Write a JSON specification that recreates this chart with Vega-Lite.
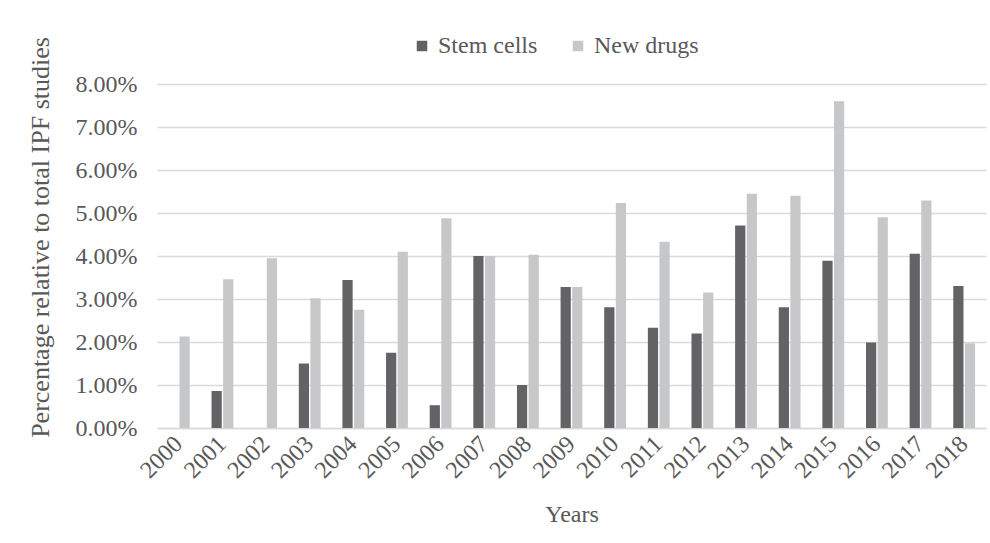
{
  "$schema": "https://vega.github.io/schema/vega-lite/v6.json",
  "autosize": {"type": "none"},
  "width": 829,
  "height": 344,
  "padding": {"left": 157, "top": 84, "right": 4, "bottom": 115},
  "background": "white",
  "data": {
    "values": [
      {"year": "2000", "series": "Stem cells", "value": 0.0},
      {"year": "2000", "series": "New drugs", "value": 0.0213},
      {"year": "2001", "series": "Stem cells", "value": 0.0086},
      {"year": "2001", "series": "New drugs", "value": 0.0346},
      {"year": "2002", "series": "Stem cells", "value": 0.0},
      {"year": "2002", "series": "New drugs", "value": 0.0395},
      {"year": "2003", "series": "Stem cells", "value": 0.0150},
      {"year": "2003", "series": "New drugs", "value": 0.0302},
      {"year": "2004", "series": "Stem cells", "value": 0.0344},
      {"year": "2004", "series": "New drugs", "value": 0.0275},
      {"year": "2005", "series": "Stem cells", "value": 0.0175},
      {"year": "2005", "series": "New drugs", "value": 0.0410},
      {"year": "2006", "series": "Stem cells", "value": 0.0053},
      {"year": "2006", "series": "New drugs", "value": 0.0488},
      {"year": "2007", "series": "Stem cells", "value": 0.0400},
      {"year": "2007", "series": "New drugs", "value": 0.0400},
      {"year": "2008", "series": "Stem cells", "value": 0.0100},
      {"year": "2008", "series": "New drugs", "value": 0.0403},
      {"year": "2009", "series": "Stem cells", "value": 0.0328},
      {"year": "2009", "series": "New drugs", "value": 0.0328},
      {"year": "2010", "series": "Stem cells", "value": 0.0281},
      {"year": "2010", "series": "New drugs", "value": 0.0523},
      {"year": "2011", "series": "Stem cells", "value": 0.0233},
      {"year": "2011", "series": "New drugs", "value": 0.0433},
      {"year": "2012", "series": "Stem cells", "value": 0.0220},
      {"year": "2012", "series": "New drugs", "value": 0.0315},
      {"year": "2013", "series": "Stem cells", "value": 0.0471},
      {"year": "2013", "series": "New drugs", "value": 0.0545},
      {"year": "2014", "series": "Stem cells", "value": 0.0281},
      {"year": "2014", "series": "New drugs", "value": 0.0540},
      {"year": "2015", "series": "Stem cells", "value": 0.0389},
      {"year": "2015", "series": "New drugs", "value": 0.0760},
      {"year": "2016", "series": "Stem cells", "value": 0.0199},
      {"year": "2016", "series": "New drugs", "value": 0.0490},
      {"year": "2017", "series": "Stem cells", "value": 0.0405},
      {"year": "2017", "series": "New drugs", "value": 0.0529},
      {"year": "2018", "series": "Stem cells", "value": 0.0330},
      {"year": "2018", "series": "New drugs", "value": 0.0197}
    ]
  },
  "mark": {"type": "bar"},
  "encoding": {
    "x": {
      "field": "year",
      "type": "nominal",
      "title": "Years",
      "scale": {"paddingInner": 0.5, "paddingOuter": 0.25},
      "axis": {
        "labelAngle": -45,
        "labelAlign": "right",
        "labelBaseline": "middle",
        "labelPadding": 12,
        "ticks": false,
        "domainColor": "#d9d9d9",
        "domainWidth": 1.5,
        "titlePadding": 20
      }
    },
    "xOffset": {
      "field": "series",
      "type": "nominal",
      "scale": {"domain": ["Stem cells", "New drugs"], "paddingInner": 0.12, "paddingOuter": 0}
    },
    "y": {
      "field": "value",
      "type": "quantitative",
      "title": "Percentage relative to total IPF studies",
      "scale": {"domain": [0, 0.08], "nice": false},
      "axis": {
        "format": ".2%",
        "values": [0, 0.01, 0.02, 0.03, 0.04, 0.05, 0.06, 0.07, 0.08],
        "domain": false,
        "ticks": false,
        "labelPadding": 20,
        "gridColor": "#d9d9d9",
        "gridWidth": 1.5,
        "titlePadding": 22,
        "titleFontSize": 26,
        "titleY": 153
      }
    },
    "color": {
      "field": "series",
      "type": "nominal",
      "title": null,
      "scale": {"domain": ["Stem cells", "New drugs"], "range": ["#636365", "#c6c7c9"]},
      "legend": {
        "orient": "none",
        "direction": "horizontal",
        "legendX": 253,
        "legendY": -50,
        "symbolType": "square",
        "symbolSize": 110,
        "symbolStrokeWidth": 0,
        "columnPadding": 28,
        "labelOffset": 4
      }
    }
  },
  "config": {
    "font": "Liberation Serif",
    "view": {"stroke": null},
    "axis": {
      "labelFont": "Liberation Serif",
      "titleFont": "Liberation Serif",
      "labelFontSize": 24,
      "titleFontSize": 24,
      "titleFontWeight": "normal",
      "labelColor": "#595959",
      "titleColor": "#595959"
    },
    "legend": {
      "labelFont": "Liberation Serif",
      "labelFontSize": 24,
      "labelColor": "#595959"
    }
  }
}
